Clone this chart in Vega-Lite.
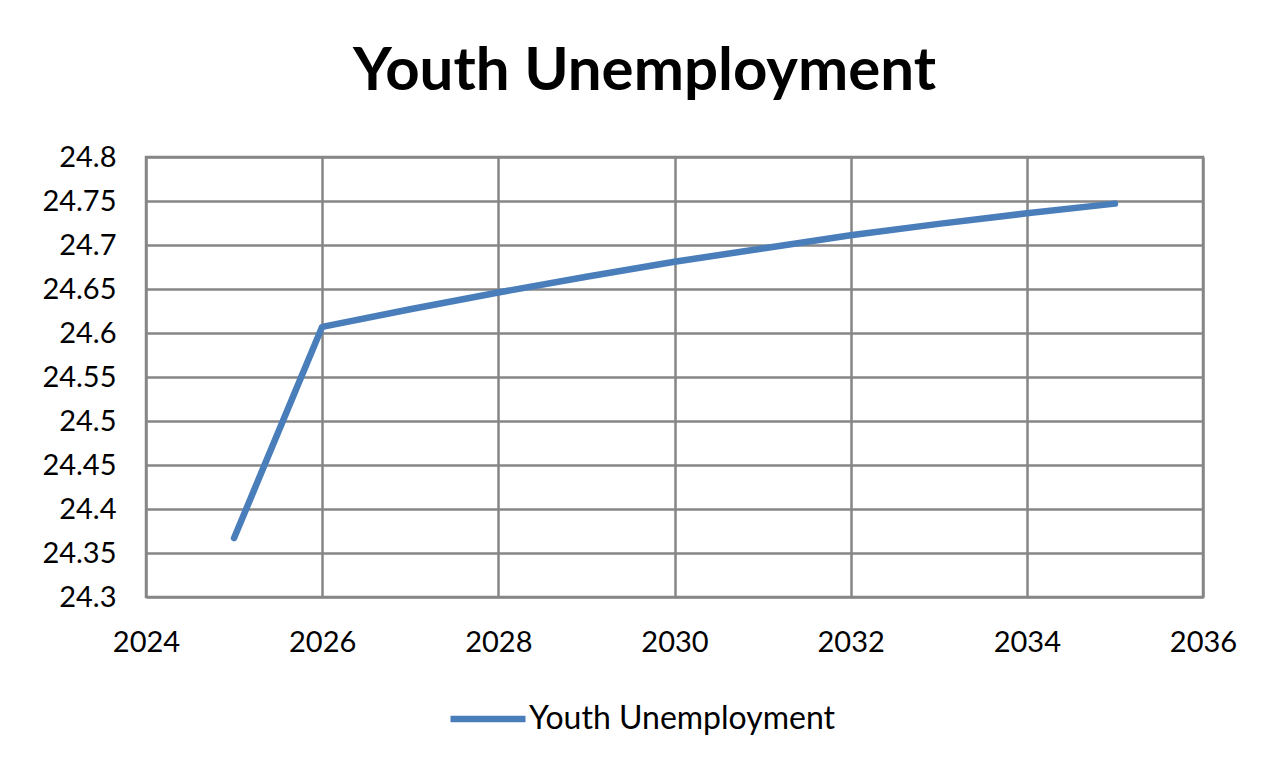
{
  "$schema": "https://vega.github.io/schema/vega-lite/v6.json",
  "width": 1057,
  "height": 440,
  "autosize": {"type": "none"},
  "padding": {"left": 146, "top": 157, "right": 76, "bottom": 168},
  "background": "white",
  "title": {
    "text": "Youth Unemployment",
    "font": "Lato",
    "fontSize": 60,
    "fontWeight": "bold",
    "color": "#000000",
    "anchor": "middle",
    "frame": "group",
    "offset": 40,
    "dx": -30
  },
  "data": {
    "values": [
      {"year": 2025, "value": 24.367, "series": "Youth Unemployment"},
      {"year": 2026, "value": 24.607, "series": "Youth Unemployment"},
      {"year": 2027, "value": 24.627, "series": "Youth Unemployment"},
      {"year": 2028, "value": 24.646, "series": "Youth Unemployment"},
      {"year": 2029, "value": 24.664, "series": "Youth Unemployment"},
      {"year": 2030, "value": 24.681, "series": "Youth Unemployment"},
      {"year": 2031, "value": 24.696, "series": "Youth Unemployment"},
      {"year": 2032, "value": 24.711, "series": "Youth Unemployment"},
      {"year": 2033, "value": 24.724, "series": "Youth Unemployment"},
      {"year": 2034, "value": 24.736, "series": "Youth Unemployment"},
      {"year": 2035, "value": 24.747, "series": "Youth Unemployment"}
    ]
  },
  "mark": {"type": "line", "strokeWidth": 6.5, "strokeCap": "round", "strokeJoin": "round"},
  "encoding": {
    "x": {
      "field": "year",
      "type": "quantitative",
      "scale": {"domain": [2024, 2036], "nice": false, "zero": false},
      "axis": {
        "values": [2024, 2026, 2028, 2030, 2032, 2034, 2036],
        "format": "d",
        "title": null,
        "ticks": false,
        "domain": false,
        "labelPadding": 31,
        "labelFont": "Lato",
        "labelFontSize": 29,
        "labelColor": "#000000",
        "grid": true,
        "gridColor": "#868686",
        "gridWidth": 2.5,
        "labelFlush": false
      }
    },
    "y": {
      "field": "value",
      "type": "quantitative",
      "scale": {"domain": [24.3, 24.8], "nice": false, "zero": false},
      "axis": {
        "values": [24.3, 24.35, 24.4, 24.45, 24.5, 24.55, 24.6, 24.65, 24.7, 24.75, 24.8],
        "format": "~g",
        "title": null,
        "ticks": false,
        "domain": false,
        "labelPadding": 30,
        "labelFont": "Lato",
        "labelFontSize": 29,
        "labelColor": "#000000",
        "grid": true,
        "gridColor": "#868686",
        "gridWidth": 2.5,
        "labelFlush": false
      }
    },
    "color": {
      "field": "series",
      "type": "nominal",
      "scale": {"range": ["#4a7ebb"]},
      "legend": {
        "title": null,
        "orient": "none",
        "legendX": 301,
        "legendY": 521,
        "symbolType": "stroke",
        "symbolSize": 5625,
        "symbolStrokeWidth": 6.5,
        "labelFont": "Lato",
        "labelFontSize": 32,
        "labelColor": "#000000",
        "labelLimit": 600,
        "labelOffset": 0,
        "symbolOffset": 0
      }
    }
  },
  "config": {
    "view": {"stroke": "#868686", "strokeWidth": 2.5}
  }
}
